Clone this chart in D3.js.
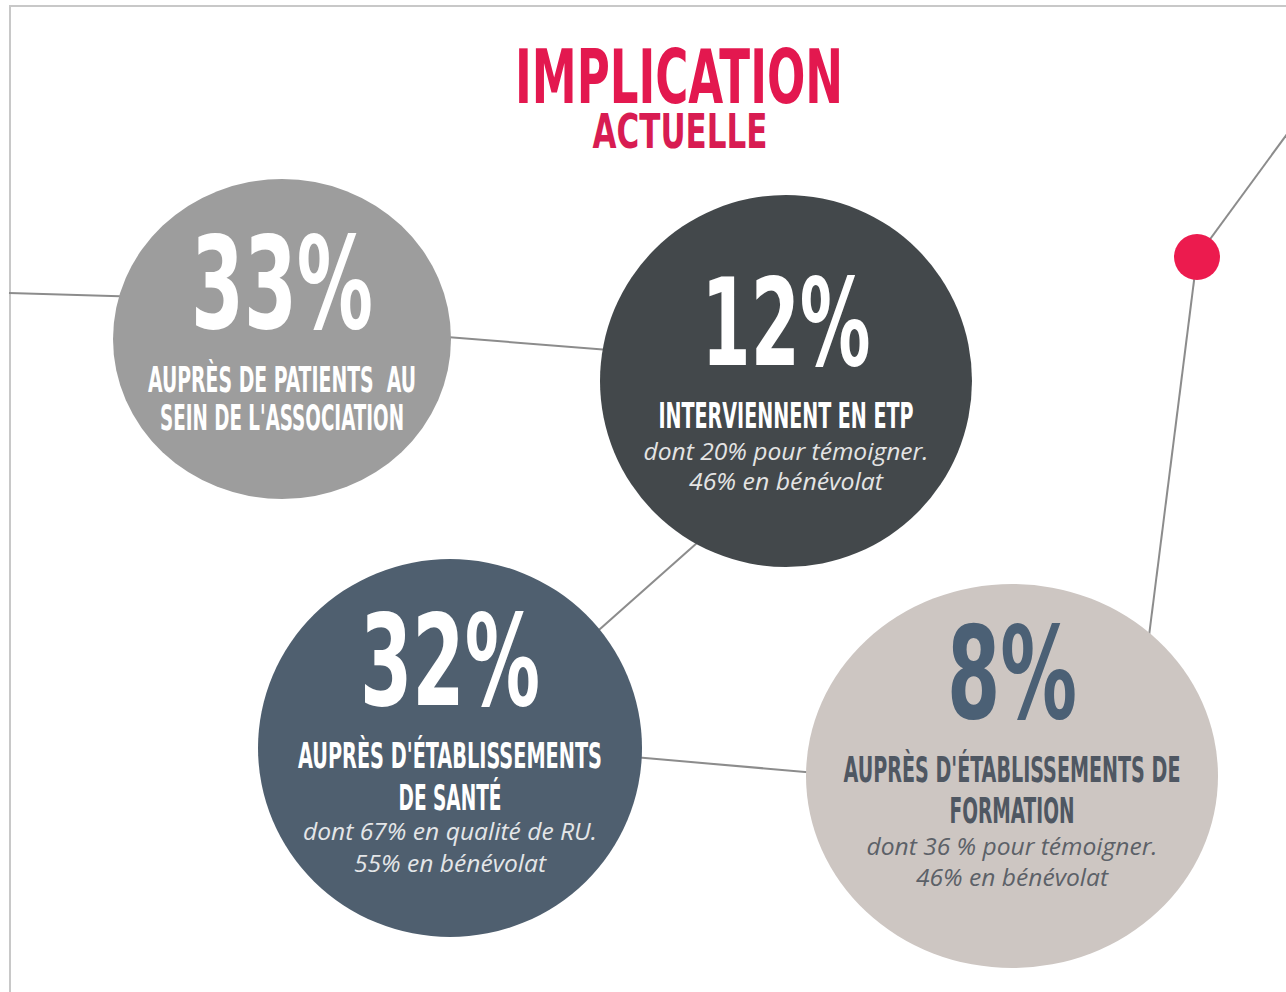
<!DOCTYPE html>
<html>
<head>
<meta charset="utf-8">
<script src="https://cdn.jsdelivr.net/npm/d3@7"></script>
<style>
  html, body { margin: 0; padding: 0; background: #ffffff; }
  svg { display: block; }
  .cond { font-family: 'Liberation Sans Narrow', 'DejaVu Sans Condensed', 'Roboto', sans-serif; font-weight: bold; white-space: pre; }
  .note { font-family: 'Open Sans', 'Noto Sans', sans-serif; font-style: italic; }
</style>
</head>
<body>
<div id="graf"></div>
<script>
// Données du graphique
const categories = ['patients', 'etp', 'sante', 'formation']
const pourcentages = [33, 12, 32, 8]
const titres = [
    ['AUPRÈS DE PATIENTS  AU', "SEIN DE L'ASSOCIATION"],
    ['INTERVIENNENT EN ETP'],
    ["AUPRÈS D'ÉTABLISSEMENTS", 'DE SANTÉ'],
    ["AUPRÈS D'ÉTABLISSEMENTS DE", 'FORMATION']
]
const notes = [
    [],
    ['dont 20% pour témoigner.', '46% en bénévolat'],
    ['dont 67% en qualité de RU.', '55% en bénévolat'],
    ['dont 36 % pour témoigner.', '46% en bénévolat']
]
const titre = ['IMPLICATION', 'ACTUELLE']

// Mise en page (positions, tailles)
const ancho = 1286
const height = 992
const disposition = [
    { cx: 282, cy: 339, rx: 169, ry: 160, num: { dy: -11, w: 182, fs: 129 },
      lignes: [{ dy: 53, w: 268 }, { dy: 91, w: 244 }], notesL: [] },
    { cx: 786, cy: 381, rx: 186, ry: 186, num: { dy: -16, w: 169, fs: 122 },
      lignes: [{ dy: 47, w: 255 }], notesL: [{ dy: 79, w: 285 }, { dy: 109, w: 194 }] },
    { cx: 450, cy: 748, rx: 192, ry: 189, num: { dy: -43, w: 180, fs: 126 },
      lignes: [{ dy: 20, w: 304 }, { dy: 62, w: 103 }], notesL: [{ dy: 92, w: 294 }, { dy: 124, w: 192 }] },
    { cx: 1012, cy: 776, rx: 206, ry: 192, num: { dy: -58, w: 130, fs: 129 },
      lignes: [{ dy: 6, w: 337 }, { dy: 47, w: 125 }], notesL: [{ dy: 79, w: 291 }, { dy: 110, w: 192 }] }
]

// Couleurs
const fond = d3.scaleOrdinal().domain(categories).range(['#9d9d9d', '#43484b', '#4f5f6f', '#cdc6c2'])
const couleurNum = d3.scaleOrdinal().domain(categories).range(['#ffffff', '#ffffff', '#ffffff', '#4b6075'])
const couleurTitre = d3.scaleOrdinal().domain(categories).range(['#ffffff', '#ffffff', '#ffffff', '#4f5762'])
const couleurNote = d3.scaleOrdinal().domain(categories).range(['#eeeeee', '#e4e4e4', '#e4e6e8', '#5c6168'])

// Points de passage des traits de liaison
const points = {
    bord: [9, 293], c1a: [282, 301], c1b: [282, 324], c2a: [786, 364], c2b: [786, 464],
    c3a: [450, 762], c3b: [450, 741], c4a: [1012, 790], c4b: [1131, 778],
    point: [1197, 257], coin: [1290, 130]
}
const liens = [['bord', 'c1a'], ['c1b', 'c2a'], ['c2b', 'c3a'], ['c3b', 'c4a'], ['c4b', 'point'], ['point', 'coin']]

const svg = d3.select('#graf')
    .append('svg')
    .attr('width', ancho)
    .attr('height', height)

// Cadre gris
svg.append('path')
    .attr('d', d3.line()([[10, height + 5], [10, 6], [ancho + 5, 6]]))
    .attr('fill', 'none')
    .attr('stroke', '#c8c8c8')
    .attr('stroke-width', 2)

// Traits
const trait = d3.line()
svg.append('g')
    .selectAll('path')
    .data(liens)
    .enter()
    .append('path')
    .attr('d', d => trait([points[d[0]], points[d[1]]]))
    .attr('stroke', '#8c8c8c')
    .attr('stroke-width', 2)
    .attr('fill', 'none')

// Point rouge
svg.append('circle')
    .attr('cx', points.point[0])
    .attr('cy', points.point[1])
    .attr('r', 23)
    .attr('fill', '#ec1b4e')

// Titre
svg.append('text')
    .attr('class', 'cond')
    .attr('x', 679)
    .attr('y', 103)
    .attr('text-anchor', 'middle')
    .attr('font-size', 74)
    .attr('textLength', 328)
    .attr('lengthAdjust', 'spacingAndGlyphs')
    .attr('fill', '#e3184f')
    .text(titre[0])

svg.append('text')
    .attr('class', 'cond')
    .attr('x', 680)
    .attr('y', 148)
    .attr('text-anchor', 'middle')
    .attr('font-size', 48)
    .attr('textLength', 175)
    .attr('lengthAdjust', 'spacingAndGlyphs')
    .attr('fill', '#d81c52')
    .text(titre[1])

// Bulles
const bulles = svg.selectAll('g.bulle')
    .data(categories)
    .enter()
    .append('g')
    .attr('class', 'bulle')
    .attr('transform', (d, i) => `translate(${disposition[i].cx}, ${disposition[i].cy})`)

bulles.append('ellipse')
    .attr('rx', (d, i) => disposition[i].rx)
    .attr('ry', (d, i) => disposition[i].ry)
    .attr('fill', d => fond(d))

bulles.append('text')
    .attr('class', 'cond')
    .attr('y', (d, i) => disposition[i].num.dy)
    .attr('text-anchor', 'middle')
    .attr('font-size', (d, i) => disposition[i].num.fs)
    .attr('textLength', (d, i) => disposition[i].num.w)
    .attr('lengthAdjust', 'spacingAndGlyphs')
    .attr('fill', d => couleurNum(d))
    .text((d, i) => `${pourcentages[i]}%`)

bulles.each(function(d, i) {
    const g = d3.select(this)
    g.selectAll('text.titre')
        .data(titres[i])
        .enter()
        .append('text')
        .attr('class', 'cond titre')
        .attr('y', (t, j) => disposition[i].lignes[j].dy)
        .attr('text-anchor', 'middle')
        .attr('font-size', 35)
        .attr('textLength', (t, j) => disposition[i].lignes[j].w)
        .attr('lengthAdjust', 'spacingAndGlyphs')
        .attr('fill', couleurTitre(d))
        .text(t => t)

    g.selectAll('text.note')
        .data(notes[i])
        .enter()
        .append('text')
        .attr('class', 'note')
        .attr('y', (t, j) => disposition[i].notesL[j].dy)
        .attr('text-anchor', 'middle')
        .attr('font-size', 23)
        .attr('textLength', (t, j) => disposition[i].notesL[j].w)
        .attr('lengthAdjust', 'spacingAndGlyphs')
        .attr('fill', couleurNote(d))
        .text(t => t)
})
</script>
</body>
</html>
